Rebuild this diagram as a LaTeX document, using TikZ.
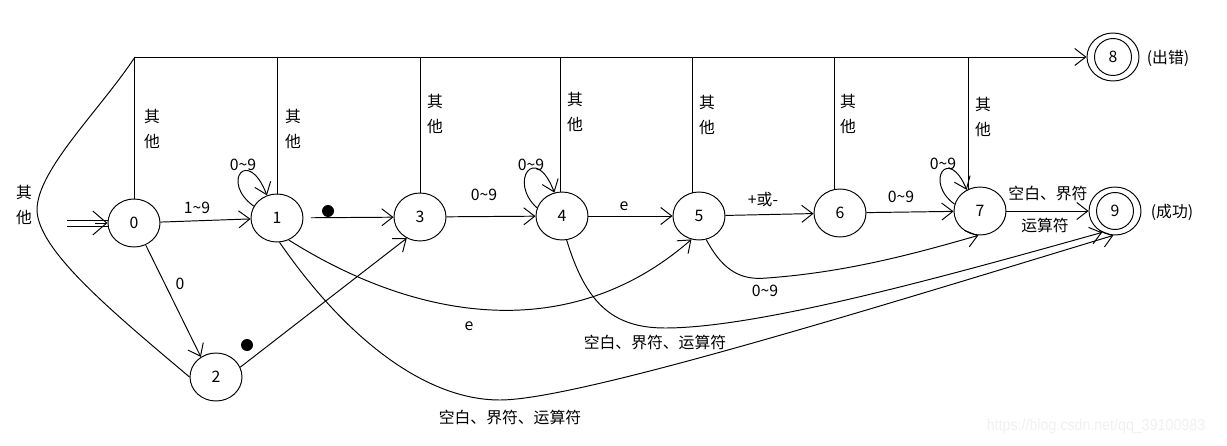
\documentclass[tikz,border=0pt]{standalone}
\usepackage{fontspec}
\setmainfont{Noto Sans CJK SC}
\newfontfamily\wmfont{Liberation Sans}
\usetikzlibrary{arrows.meta,shapes.geometric,calc}
\newcommand{\zn}{0\textasciitilde 9}
\begin{document}
\begin{tikzpicture}[x=0.02cm,y=-0.02cm, line width=0.55pt,
  st/.style={draw, ellipse, minimum width=1.04cm, minimum height=0.96cm, inner sep=0pt, font=\fontsize{9}{11}\selectfont},
  inr/.style={draw, circle, minimum size=0.74cm, inner sep=0pt, font=\fontsize{9}{11}\selectfont},
  lb/.style={inner sep=0pt, font=\fontsize{9}{11}\selectfont},
  qt/.style={inner sep=0pt, align=center, font=\fontsize{9}{14.7}\selectfont},
  arr/.style={-{Straight Barb[length=0.22cm,width=0.34cm]}},
  bigarr/.style={-{Straight Barb[length=0.28cm,width=0.48cm]}},
  dotmark/.style={circle, fill, inner sep=0pt, minimum size=0.24cm}]
\useasboundingbox (0,0) rectangle (1227,446);
% states
\node[st] (n0) at (134,223) {0};
\node[st] (n1) at (277,218) {1};
\node[st] (n2) at (216,377) {2};
\node[st] (n3) at (420,217) {3};
\node[st] (n4) at (562,216) {4};
\node[st] (n5) at (699,216) {5};
\node[st] (n6) at (840,213) {6};
\node[st] (n7) at (980,211) {7};
\node[st] (n8) at (1113,57) {};
\node[inr] (n8i) at (n8) {8};
\node[st] (n9) at (1115,211) {};
\node[inr] (n9i) at (n9) {9};
% start arrow
\coordinate (s0) at (67,220);
\coordinate (s1) at (67,226);
\coordinate (s2) at (95,223);
\draw (s0) -- (s0 -| n0.west);
\draw (s1) -- (s1 -| n0.west);
\draw[bigarr] (s2) -- (n0.west);
% error bus
\coordinate (tl) at (135,57);
\draw[arr] (tl) -- (n8);
\draw (n0.north) -- (n0.north |- tl);
\draw (n1.north) -- (n1.north |- tl);
\draw (n3.north) -- (n3.north |- tl);
\coordinate (v4) at ($(n4.north)+(-2,0)$);
\draw (v4) -- (v4 |- tl);
\coordinate (v5) at ($(n5.north)+(-7,1)$);
\draw (v5) -- (v5 |- tl);
\coordinate (v6) at ($(n6.north)+(-6,1)$);
\draw (v6) -- (v6 |- tl);
\coordinate (v7) at ($(n7.north)+(-12,3)$);
\draw (v7) -- (v7 |- tl);
\draw (n2.west) .. controls (110,310) and (38,250) .. (37,210) .. controls (37,170) and (100,110) .. (tl);
% straight transitions
\draw[arr] (n0) -- (n1);
\draw[arr, shorten <=0.15cm] (n1) -- (n3);
\draw[arr] (n3) -- (n4);
\draw[arr] (n4) -- (n5);
\draw[arr] (n5) -- (n6);
\draw[arr] (n6) -- (n7);
\draw[arr] (n7) -- (n9);
\draw[arr] (n0.-62) -- (n2.127);
\draw[arr] (n2.22) -- (n3.-122);
% loops
\draw[arr] (n1.153) .. controls (220,182) and (248,146) .. (n1.114);
\draw[arr] (n4.162) .. controls (508,182) and (535,142) .. (n4.108);
\draw[arr] (n7.165) .. controls (924,182) and (948,145) .. (n7.122);
% curved transitions
\draw[arr] (n1.-62) .. controls (422,324) and (573,343) .. (n5.-108);
\draw[arr] (n1.-84) .. controls (340,330) and (420,400) .. (500,400) .. controls (580,400) and (900,300) .. (n9.-94);
\draw[arr] (n4.-79) .. controls (585,300) and (610,328) .. (665,328) .. controls (760,328) and (950,275) .. (n9.-121);
\draw[arr] (n5.-73) .. controls (725,275) and (745,280) .. (767,278) .. controls (850,272) and (920,252) .. (n7.-94);
% labels
\node[qt] (q0) at (152,129) {其\\他};
\node[qt] (q1) at (293,129) {其\\他};
\node[qt] (q3) at (435,114) {其\\他};
\node[qt] (q4) at (575,112) {其\\他};
\node[qt] (q5) at (707,115) {其\\他};
\node[qt] (q6) at (848,114) {其\\他};
\node[qt] (q7) at (983,117) {其\\他};
\node[qt] (ql) at (24,205) {其\\他};
\node[lb] (l01) at (197,208) {1\textasciitilde 9};
\node[lb] (l02) at (180,284) {0};
\node[lb] (l11) at (243,165) {\zn};
\node[dotmark] (d13) at (328,211) {};
\node[dotmark] (d23) at (247,345) {};
\node[lb] (l34) at (484,195) {\zn};
\node[lb] (l44) at (531,165) {\zn};
\node[lb] (l45) at (624,206) {e};
\node[lb] (l56) at (763,200) {+或-};
\node[lb] (l67) at (901,197) {\zn};
\node[lb] (l77) at (943,164) {\zn};
\node[lb] (l79a) at (1048,193) {空白、界符};
\node[lb] (l79b) at (1045,225) {运算符};
\node[lb] (l8) at (1168,58) {(出错)};
\node[lb] (l9) at (1172,212) {(成功)};
\node[lb] (l15) at (469,326) {e};
\node[lb] (l49) at (655,342) {空白、界符、运算符};
\node[lb] (l19) at (510,417) {空白、界符、运算符};
\node[lb] (l57) at (765,291) {\zn};
\node[inner sep=0pt, font=\wmfont\fontsize{9}{10}\selectfont, text=black!6, xscale=0.9] (wm) at (1096,426) {https://blog.csdn.net/qq\_39100983};
\end{tikzpicture}
\end{document}
